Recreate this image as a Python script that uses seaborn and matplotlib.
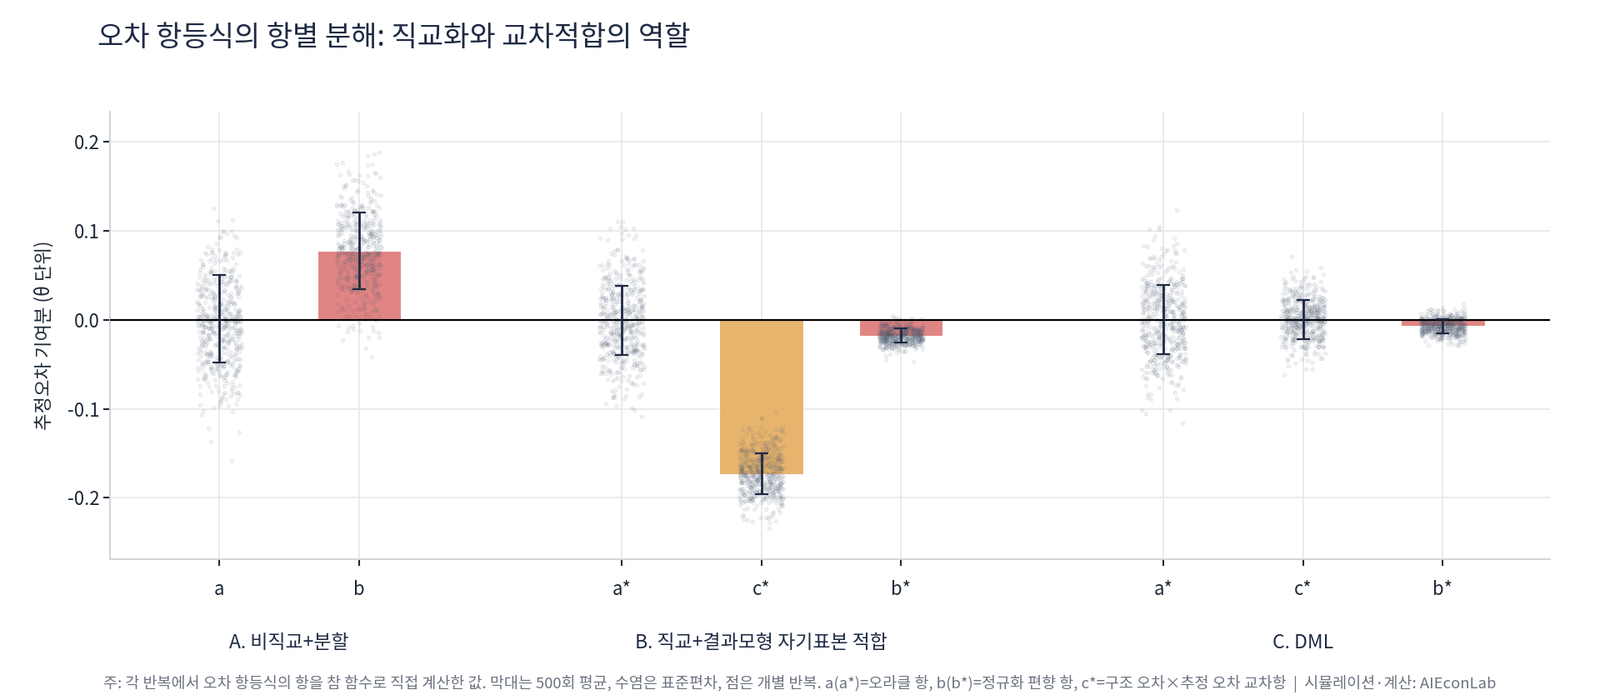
import numpy as np
import pandas as pd
import matplotlib
matplotlib.use("Agg")
import matplotlib.pyplot as plt
import seaborn as sns

# term labels, group membership and x positions (gaps between panels)
terms = ["a", "b", "a*", "c*", "b*", "a*", "c*", "b*"]
kinds = ["oracle", "bias", "oracle", "cross", "bias", "oracle", "cross", "bias"]
positions = [0.0, 1.0, 2.88, 3.88, 4.88, 6.76, 7.76, 8.76]
# mean contribution over 500 reps and its standard deviation
means = [0.001, 0.077, -0.0005, -0.173, -0.018, 0.0, 0.0005, -0.007]
sds = [0.049, 0.043, 0.039, 0.023, 0.008, 0.039, 0.022, 0.008]
n_reps = 500

groups = ["A. 비직교+분할", "B. 직교+결과모형 자기표본 적합", "C. DML"]
group_centers = [0.5, 3.88, 7.76]

title = "오차 항등식의 항별 분해: 직교화와 교차적합의 역할"
ylabel = "추정오차 기여분 (θ 단위)"
note = ("주: 각 반복에서 오차 항등식의 항을 참 함수로 직접 계산한 값. 막대는 500회 평균, 수염은 표준편차, 점은 개별 반복. "
        "a(a*)=오라클 항, b(b*)=정규화 편향 항, c*=구조 오차×추정 오차 교차항  |  시뮬레이션·계산: AIEconLab")

palette = {"oracle": "#94a3b8", "bias": "#e07f7d", "cross": "#e6b066"}
navy = "#1e2a44"

summary = pd.DataFrame({"pos": positions, "mean": means, "sd": sds, "kind": kinds})

# individual replications: simulated cloud around each term's mean/sd
rng = np.random.default_rng(7)
reps = pd.DataFrame({
    "pos": np.repeat(positions, n_reps),
    "value": np.concatenate([rng.normal(m, s, n_reps) for m, s in zip(means, sds)]),
})

sns.set_theme(style="white")
plt.rcParams["font.family"] = ["Noto Sans CJK KR", "DejaVu Sans"]

fig = plt.figure(figsize=(19.2, 8.4), dpi=100)
ax = fig.add_axes([0.069, 0.201, 0.900, 0.640])

ax.grid(True, color="#e5e7eb", lw=1.2, zorder=0)
ax.set_axisbelow(True)

sns.barplot(data=summary, x="pos", y="mean", hue="kind", palette=palette,
            native_scale=True, dodge=False, width=0.6, errorbar=None,
            saturation=1, legend=False, alpha=0.95, edgecolor="white",
            linewidth=0.8, ax=ax)

sns.stripplot(data=reps, x="pos", y="value", native_scale=True, jitter=0.16,
              color="#64748b", alpha=0.09, size=3.2, linewidth=0.6,
              edgecolor="#334155", ax=ax, zorder=3)

ax.axhline(0, color="black", lw=1.6, zorder=4)
ax.errorbar(summary["pos"], summary["mean"], yerr=summary["sd"], fmt="none",
            ecolor=navy, elinewidth=2, capsize=6, capthick=1.6, zorder=5)

ax.set_xlim(-0.78, 9.53)
ax.set_ylim(-0.269, 0.234)
ax.set_xticks(positions)
ax.set_xticklabels(terms)
ax.set_yticks([-0.2, -0.1, 0.0, 0.1, 0.2])
ax.set_yticklabels(["-0.2", "-0.1", "0.0", "0.1", "0.2"])
ax.set_xlabel("")
ax.set_ylabel(ylabel, fontsize=16, color="#1f2937", labelpad=12)
ax.tick_params(axis="both", labelsize=16, colors="#1f2937", length=6, width=1.5,
               direction="out", bottom=True, left=True)
ax.tick_params(axis="x", pad=12, color="#1f2937")

for side in ["top", "right"]:
    ax.spines[side].set_visible(False)
for side in ["left", "bottom"]:
    ax.spines[side].set_color("#d1d5db")
    ax.spines[side].set_linewidth(1.5)

for label, cx in zip(groups, group_centers):
    ax.text(cx, -0.186, label, transform=ax.get_xaxis_transform(),
            ha="center", va="center", fontsize=16.5, color=navy)

fig.text(0.061, 0.946, title, fontsize=24.5, color=navy, ha="left", va="center")
fig.text(0.5, 0.023, note, fontsize=13.3, color="#6b7280", ha="center", va="center")

fig.savefig("out.png", dpi=100)
